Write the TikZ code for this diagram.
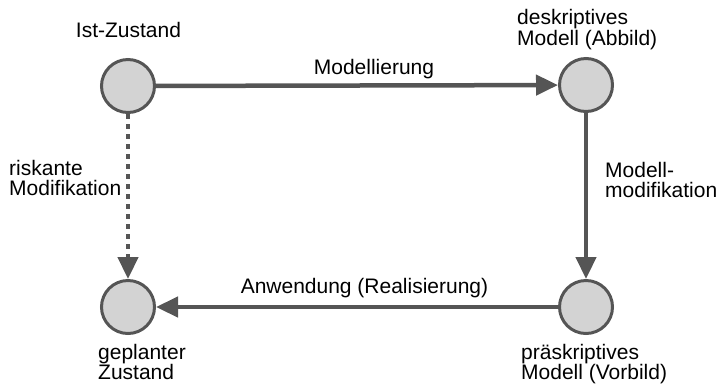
\documentclass[tikz,border=0pt]{standalone}
\usepackage{fontspec}
\setmainfont{Liberation Sans}
\usetikzlibrary{arrows.meta}
\definecolor{linegray}{RGB}{85,85,85}
\definecolor{fillgray}{RGB}{211,211,211}
\begin{document}
\begin{tikzpicture}[x=1pt,y=-1pt,
  state/.style={circle, draw=linegray, line width=3pt, fill=fillgray, minimum size=53pt, inner sep=0pt},
  conn/.style={draw=linegray, line width=4.5pt, -{Triangle[length=22pt,width=20pt]}},
  dotconn/.style={conn, dash pattern=on 5pt off 5pt},
  lbl/.style={inner sep=0pt, font=\fontsize{21}{19}\selectfont, text=black}]
\useasboundingbox (0,0) rectangle (719,384);

\node[state] (ist) at (128,86) {};
\node[state] (desk) at (586,85) {};
\node[state] (praesk) at (586,307) {};
\node[state] (geplant) at (128,307) {};

\draw[conn] (ist) -- (desk);
\draw[conn] (desk) -- (praesk);
\draw[conn] (praesk) -- (geplant);
\draw[dotconn] (ist) -- (geplant);

\node[lbl, anchor=base] (tist) at (128.5,37.7) {Ist-Zustand};
\node[lbl, anchor=base] (tmod) at (374,74) {Modellierung};
\node[lbl, anchor=base west] (tdesk) at (517,24.5) {\begin{tabular}[t]{@{}l@{}}deskriptives\\Modell (Abbild)\end{tabular}};
\node[lbl, anchor=base west] (trisk) at (9,175) {\begin{tabular}[t]{@{}l@{}}riskante\\Modifikation\end{tabular}};
\node[lbl, anchor=base west] (tmodmod) at (605,177) {\begin{tabular}[t]{@{}l@{}}Modell-\\modifikation\end{tabular}};
\node[lbl, anchor=base] (tanw) at (364.5,293) {Anwendung (Realisierung)};
\node[lbl, anchor=base west] (tgepl) at (98,359) {\begin{tabular}[t]{@{}l@{}}geplanter\\Zustand\end{tabular}};
\node[lbl, anchor=base west] (tpraesk) at (521,359) {\begin{tabular}[t]{@{}l@{}}präskriptives\\Modell (Vorbild)\end{tabular}};
\end{tikzpicture}
\end{document}
